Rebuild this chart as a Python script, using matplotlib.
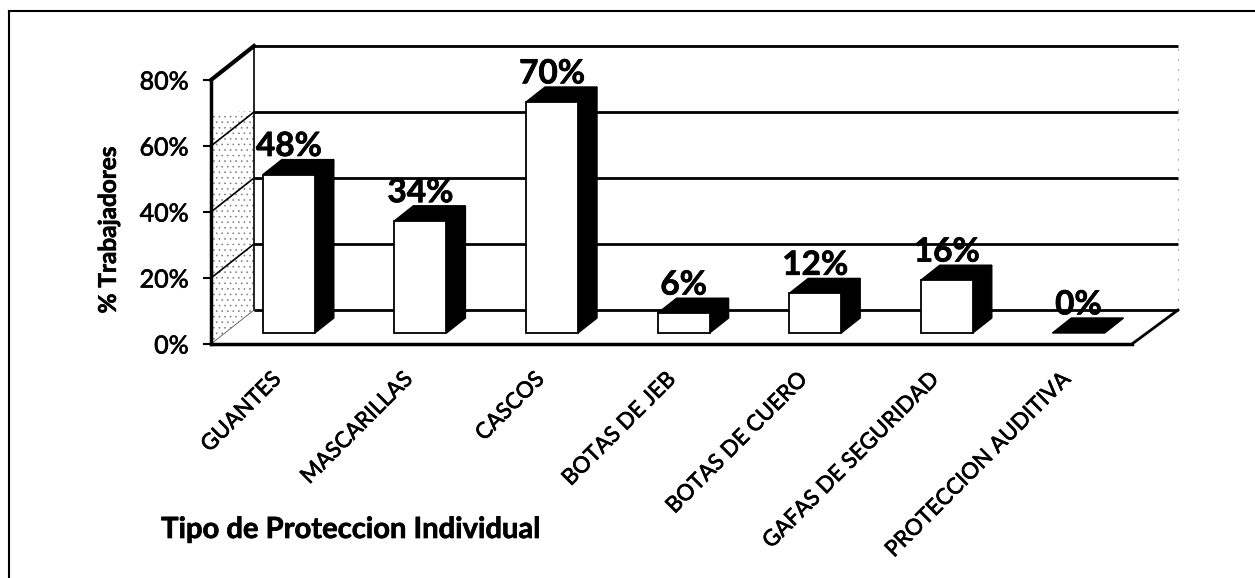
import matplotlib
matplotlib.use("Agg")
import matplotlib.pyplot as plt
import matplotlib.patheffects as pe
from matplotlib.patches import Polygon
from matplotlib.lines import Line2D
from matplotlib.transforms import ScaledTranslation

categories = ["GUANTES", "MASCARILLAS", "CASCOS", "BOTAS DE JEB",
              "BOTAS DE CUERO", "GAFAS DE SEGURIDAD", "PROTECCION AUDITIVA"]
values = [48, 34, 70, 6, 12, 16, 0]
y_ticks = [0, 20, 40, 60, 80]

plt.rcParams['font.family'] = ['Lato', 'DejaVu Sans']
plt.rcParams['hatch.linewidth'] = 0.4

W, H = 1255, 578
fig = plt.figure(figsize=(W / 100, H / 100), dpi=100, facecolor='white')

# axes = front plane of the 3d box, 0% at y=344px and 80% at y=80px
left, right, bottom, top = 211, 1132, 344, 80
ax = fig.add_axes([left / W, 1 - bottom / H, (right - left) / W, (bottom - top) / H])
ax.set_xlim(-0.486, 6.513)
ax.set_ylim(0, 80)
ax.patch.set_visible(False)

# how far the back wall is shifted from the front plane (data units)
DX = 43 / 131.6
DY = 34 / 3.3

thick = [pe.withStroke(linewidth=0.5, foreground='black')]


def proj(x, y, depth=0.0):
    return (x + DX * depth, y + DY * depth)


x0, x1 = ax.get_xlim()
x1_back = x1 + 0.023

# side wall
ax.add_patch(Polygon([proj(x0, 0), proj(x0, 70), proj(x0, 60.3, 1), proj(x0, 0, 1)],
                     closed=True, facecolor='white', edgecolor='#777777', hatch='...',
                     linewidth=0, clip_on=False, zorder=1))

for t in y_ticks:
    # back wall gridline
    ax.plot(*zip(proj(x0, t, 1), proj(x1_back, t, 1)), color='black',
            lw=2, clip_on=False, zorder=2, solid_capstyle='butt')
    # side wall gridline
    if t > 0:
        ax.plot(*zip(proj(x0, t), proj(x0, t, 1)), color='black',
                lw=3 if t == 80 else 1.2, clip_on=False, zorder=2)

# back wall edges
ax.plot(*zip(proj(x0, 0, 1), proj(x0, 80, 1)), color='black', lw=1.2, clip_on=False, zorder=2)
ax.plot(*zip(proj(x1_back, 0, 1), proj(x1_back, 80, 1)), color='#777777', lw=0.8, ls=(0, (1, 8)),
        clip_on=False, zorder=2)

# floor
ax.plot(*zip(proj(x1, 0), proj(x1_back, 0, 1)), color='black', lw=2, clip_on=False, zorder=2)
ax.plot(*zip(proj(x0, 0), proj(x0, 0, 1)), color='#555555', lw=0.6, clip_on=False, zorder=2)

# bars
bar_w = 52 / 131.6
front = 11 / 34
back = 26 / 34
for i, v in enumerate(values):
    xa = i - bar_w / 2
    xb = i + bar_w / 2
    ax.add_patch(Polygon([proj(xb, 0, front), proj(xb, 0, back), proj(xb, v, back), proj(xb, v, front)],
                         facecolor='black', edgecolor='black', lw=1, zorder=3))
    ax.add_patch(Polygon([proj(xa, v, front), proj(xb, v, front), proj(xb, v, back), proj(xa, v, back)],
                         facecolor='black', edgecolor='black', lw=1, zorder=3))
    if v > 0:
        ax.add_patch(Polygon([proj(xa, 0, front), proj(xb, 0, front), proj(xb, v, front), proj(xa, v, front)],
                             facecolor='white', edgecolor='black', lw=1.3, zorder=4))
    lx = proj(i, v, front)[0]
    ly = proj(i, v, back)[1]
    ax.annotate(f"{v}%", (lx, ly), xytext=(0, -1), textcoords='offset points', ha='center',
                va='bottom', fontsize=24, fontweight='bold', zorder=5, path_effects=thick)

# axes lines and ticks
for side in ['top', 'right']:
    ax.spines[side].set_visible(False)
ax.spines['left'].set_linewidth(2.5)
ax.spines['bottom'].set_linewidth(2.5)
ax.set_yticks(y_ticks)
ax.set_yticklabels([f"{t}%" for t in y_ticks], fontsize=18, path_effects=thick)
ax.tick_params(axis='y', length=6, width=1.5, pad=10)
ax.set_ylabel("% Trabajadores", fontsize=17.5, fontweight='bold', path_effects=thick)
ax.yaxis.set_label_coords(-0.099, 0.432)

ax.set_xticks(range(len(categories)))
ax.set_xticklabels(categories, rotation=45, ha='right', rotation_mode='anchor', fontsize=16,
                   path_effects=thick)
ax.tick_params(axis='x', length=0, pad=18)
shift = ScaledTranslation(-3 / 72, 0, fig.dpi_scale_trans)
for lab in ax.get_xticklabels():
    lab.set_transform(lab.get_transform() + shift)

fig.text(350.5 / W, 1 - 530 / H, "Tipo de Proteccion Individual", fontsize=21, fontweight='bold',
         ha='center', va='center', path_effects=thick)

# outer frame
fig.add_artist(Line2D([8.5 / W, 8.5 / W], [0, 1 - 11 / H], color='black', lw=1.5))
fig.add_artist(Line2D([8.5 / W, 1], [1 - 11 / H, 1 - 11 / H], color='black', lw=1.5))

fig.savefig("out.png", dpi=100)
